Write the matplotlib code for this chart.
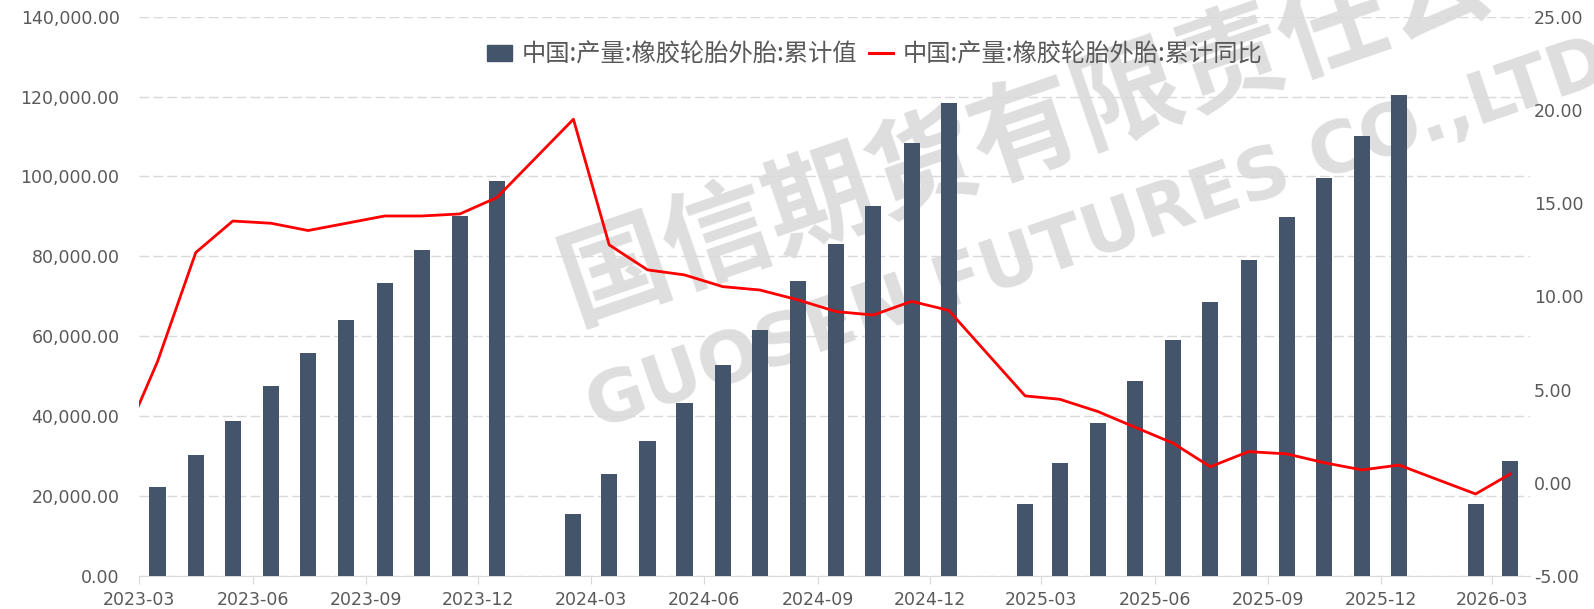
import pandas as pd
import matplotlib.pyplot as plt
import matplotlib.dates as mdates
from matplotlib.ticker import FuncFormatter
from matplotlib.patches import Patch
from matplotlib.lines import Line2D

# ----------------------------
# Data
# ----------------------------
bar_months = ["2023-03", "2023-04", "2023-05", "2023-06", "2023-07", "2023-08", "2023-09",
              "2023-10", "2023-11", "2023-12",
              "2024-02", "2024-03", "2024-04", "2024-05", "2024-06", "2024-07", "2024-08",
              "2024-09", "2024-10", "2024-11", "2024-12",
              "2025-02", "2025-03", "2025-04", "2025-05", "2025-06", "2025-07", "2025-08",
              "2025-09", "2025-10", "2025-11", "2025-12",
              "2026-02", "2026-03"]
bar_values = [22200, 30400, 38750, 47600, 55900, 64200, 73300, 81500, 90100, 98800,
              15400, 25600, 33900, 43300, 52700, 61600, 73800, 83200, 92500, 108400, 118300,
              17900, 28300, 38400, 48900, 59000, 68500, 79200, 89900, 99500, 110200, 120400,
              17900, 28900]

line_months = ["2023-02"] + bar_months
line_values = [2.2, 6.5, 12.35, 14.04, 13.92, 13.53, 13.92, 14.31, 14.31, 14.42, 15.3,
               19.5, 12.76, 11.42, 11.15, 10.52, 10.34, 9.81, 9.18, 9.0, 9.73, 9.25,
               4.66, 4.48, 3.82, 2.98, 2.12, 0.86, 1.67, 1.55, 1.08, 0.69, 0.95,
               -0.6, 0.47]

bar_label = "中国:产量:橡胶轮胎外胎:累计值"
line_label = "中国:产量:橡胶轮胎外胎:累计同比"

BAR_COLOR = "#44546A"
LINE_COLOR = "#FF0000"
GRID_COLOR = "#D9D9D9"
TEXT_COLOR = "#595959"
MARK_COLOR = "#DEDEDE"

# month values are plotted in the middle of each month
bar_x = pd.to_datetime(bar_months) + pd.Timedelta(days=15)
line_x = pd.to_datetime(line_months) + pd.Timedelta(days=15)

plt.rcParams["font.family"] = ["DejaVu Sans", "Noto Sans CJK SC"]

fig = plt.figure(figsize=(15.94, 6.09), dpi=100)
ax = fig.add_axes([0.0872, 0.0542, 0.9598 - 0.0872, 0.9726 - 0.0542])
ax2 = ax.twinx()

# watermark, behind the plot
fig.text(0.676, 0.813, "国信期货有限责任公司", fontsize=78, fontweight="bold",
         family="Noto Sans CJK SC", color=MARK_COLOR, rotation=19,
         ha="center", va="center", zorder=-1)
fig.text(0.689, 0.612, "GUOSEN FUTURES CO.,LTD", fontsize=52, fontweight="bold",
         family="DejaVu Sans", color=MARK_COLOR, rotation=19,
         ha="center", va="center", zorder=-1)
ax.patch.set_alpha(0)
ax2.patch.set_alpha(0)

ax.bar(bar_x, bar_values, width=13, color=BAR_COLOR, zorder=3)
ax2.plot(line_x, line_values, color=LINE_COLOR, lw=2.0, zorder=4)

ax.set_xlim(pd.Timestamp("2023-03-01"), pd.Timestamp("2026-04-01"))
ax.set_ylim(0, 140000)
ax2.set_ylim(-5, 25)
ax.set_yticks(range(0, 140001, 20000))
ax2.set_yticks(range(-5, 26, 5))
ax.yaxis.set_major_formatter(FuncFormatter(lambda v, p: f"{v:,.2f}"))
ax2.yaxis.set_major_formatter(FuncFormatter(lambda v, p: f"{v:.2f}"))

ax.xaxis.set_major_locator(mdates.MonthLocator(bymonth=[3, 6, 9, 12]))
ax.xaxis.set_major_formatter(mdates.DateFormatter("%Y-%m"))

ax.grid(axis="y", color=GRID_COLOR, linestyle=(0, (7, 3)), lw=1.0, zorder=0)
ax.set_axisbelow(True)

for a in (ax, ax2):
    for s in ("left", "right", "top"):
        a.spines[s].set_visible(False)
    a.spines["bottom"].set_color(GRID_COLOR)
ax2.spines["bottom"].set_visible(False)

ax.tick_params(axis="x", length=6, color=GRID_COLOR, labelsize=12.5, labelcolor=TEXT_COLOR, pad=5)
ax.tick_params(axis="y", length=0, labelsize=12.5, labelcolor=TEXT_COLOR, pad=14)
ax2.tick_params(axis="y", length=0, labelsize=12.5, labelcolor=TEXT_COLOR, pad=3)

handles = [Patch(color=BAR_COLOR), Line2D([], [], color=LINE_COLOR, lw=2.2)]
fig.legend(handles, [bar_label, line_label], loc="center", bbox_to_anchor=(0.549, 0.91),
           ncol=2, frameon=False, handlelength=1.0, handleheight=0.65, handletextpad=0.4,
           columnspacing=0.5, prop={"family": "Noto Sans CJK SC", "size": 17.5},
           labelcolor=TEXT_COLOR)

fig.savefig("out.png", dpi=100)
